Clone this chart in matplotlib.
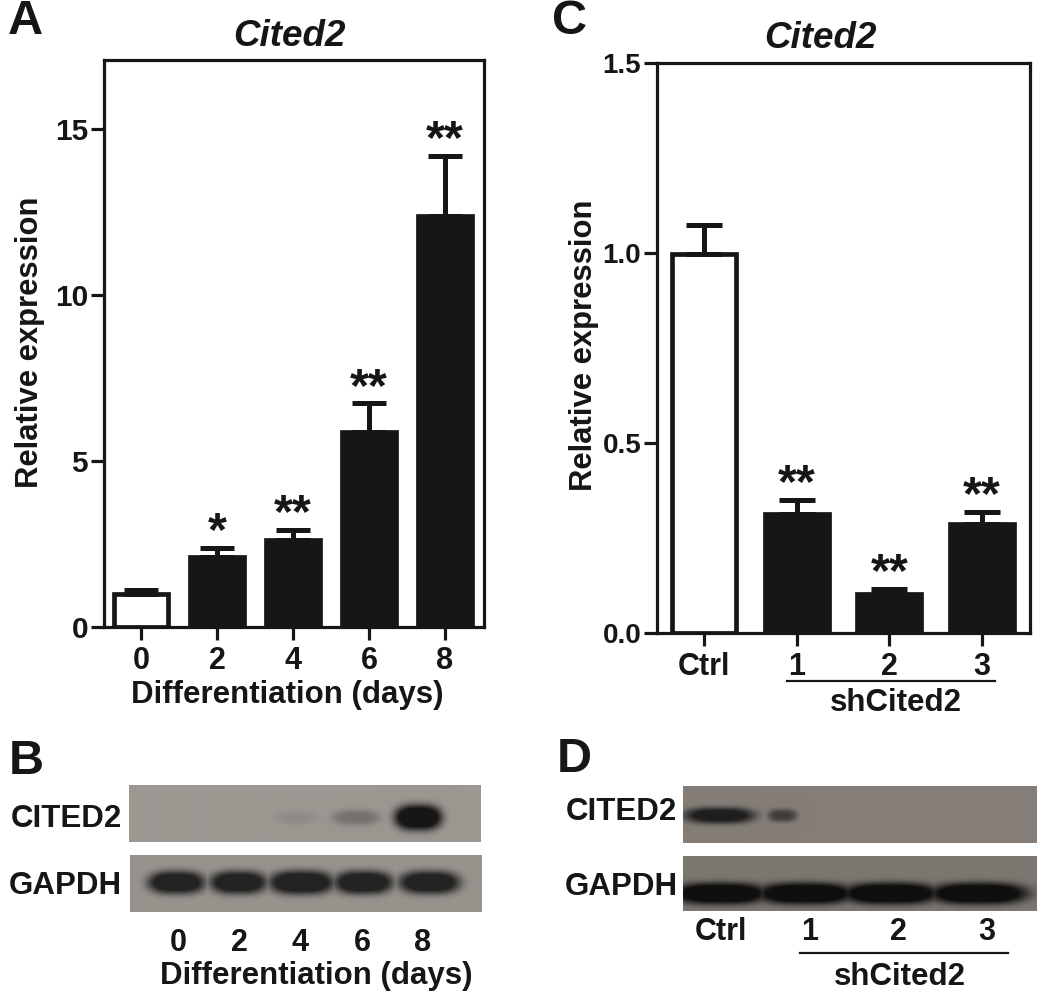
import numpy as np
import matplotlib
matplotlib.use('Agg')
import matplotlib.pyplot as plt

plt.rcParams['font.family'] = ['Liberation Sans', 'DejaVu Sans']
plt.rcParams['font.weight'] = 'bold'
plt.rcParams['axes.labelweight'] = 'bold'

W, H = 1050, 1005
ink = '#161616'

# panel A
days = ['0', '2', '4', '6', '8']
a_vals = [0.98, 2.12, 2.63, 5.88, 12.37]
a_errs = [0.14, 0.27, 0.30, 0.85, 1.82]
a_stars = ['', '*', '**', '**', '**']
a_yticks = [0, 5, 10, 15]

# panel C
groups = ['Ctrl', '1', '2', '3']
c_vals = [0.998, 0.313, 0.103, 0.287]
c_errs = [0.076, 0.037, 0.014, 0.032]
c_stars = ['', '**', '**', '**']
c_yticks = [0.0, 0.5, 1.0, 1.5]

# blots: band centre x [px], half width [px], strength 0-1
b_cited_x = [295, 355, 417]
b_cited_w = [20, 24, 24]
b_cited_s = [0.07, 0.22, 1.0]
b_gapdh_x = [176, 238, 301, 363, 429]
b_gapdh_w = [29, 29, 33, 30, 31]
b_gapdh_s = [0.95, 0.95, 1.0, 0.97, 0.95]
d_cited_x = [719, 782]
d_cited_w = [36, 15]
d_cited_s = [0.85, 0.5]
d_gapdh_x = [720, 805, 890, 978]
d_gapdh_w = [48, 50, 50, 50]
d_gapdh_s = [1.0, 1.0, 1.0, 1.0]


def px_axes(x0, y0, x1, y1):
    return fig.add_axes([x0 / W, 1 - y1 / H, (x1 - x0) / W, (y1 - y0) / H])


def bar_panel(box, labels, vals, errs, stars, yticks, ymax, xlim, width, cap, fmt, ysize, ylab_x, ylab_y):
    ax = px_axes(*box)
    x = np.arange(len(vals))
    colors = ['white'] + [ink] * (len(vals) - 1)
    ax.bar(x, vals, width=width, color=colors, edgecolor=ink, linewidth=3.4)
    ax.errorbar(x, vals, yerr=[np.zeros(len(errs)), errs], fmt='none', ecolor=ink,
                elinewidth=3.6, capsize=cap, capthick=3.6)
    for xi, v, e, s in zip(x, vals, errs, stars):
        if s:
            ax.annotate(s, (xi, v + e), xytext=(0, 11), textcoords='offset points',
                        ha='center', va='center', fontsize=35, color=ink)
    ax.set_xlim(*xlim)
    ax.set_ylim(0, ymax)
    ax.set_xticks(x, labels)
    ax.set_yticks(yticks, [fmt % t for t in yticks])
    ax.tick_params(width=2.3, length=9.4, labelsize=22, labelcolor=ink, color=ink)
    ax.tick_params(axis='x', pad=4)
    ax.tick_params(axis='y', pad=2, labelsize=ysize)
    for sp in ax.spines.values():
        sp.set_linewidth(2.3)
        sp.set_color(ink)
    ax.set_ylabel('Relative expression', fontsize=22.3, color=ink)
    ax.yaxis.set_label_coords((ylab_x - box[0]) / (box[2] - box[0]), (box[3] - ylab_y) / (box[3] - box[1]))
    return ax


def blot(box, bg, xs, ws, ss, yc, thick, dark):
    ax = px_axes(*box)
    x0, y0, x1, y1 = box
    gx, gy = np.meshgrid(np.arange(x0, x1), np.arange(y0, y1))
    img = np.zeros(gx.shape)
    for xc, w, s in zip(xs, ws, ss):
        r = np.abs((gx - xc) / w) ** 3 + ((gy - yc) / (thick * (0.5 + 0.5 * s))) ** 2
        img = np.maximum(img, np.clip(1.35 * s * np.exp(-r ** 1.6), 0, 1))
    img = (bg + (dark - bg) * img[..., None]) / 255
    ax.imshow(img, aspect='auto', interpolation='bilinear')
    ax.axis('off')
    return ax


fig = plt.figure(figsize=(W / 100, H / 100), dpi=100, facecolor='white')

bar_panel((104, 60, 484, 627), days, a_vals, a_errs, a_stars, a_yticks, 17.07,
          (-0.487, 4.513), 0.71, 12, '%d', 21.5, 45, 342)
bar_panel((657, 63, 1030, 633), groups, c_vals, c_errs, c_stars, c_yticks, 1.5,
          (-0.51, 3.52), 0.69, 13, '%.1f', 20, 599, 345)

blot((129, 785, 480, 842), np.array([157, 151, 146.]), b_cited_x, b_cited_w, b_cited_s, 817, 13, np.array([22, 22, 22.]))
blot((130, 855, 482, 912), np.array([152, 147, 141.]), b_gapdh_x, b_gapdh_w, b_gapdh_s, 882, 12, np.array([35, 35, 35.]))
blot((683, 786, 1037, 843), np.array([133, 126, 120.]), d_cited_x, d_cited_w, d_cited_s, 815, 9, np.array([30, 30, 30.]))
blot((683, 856, 1037, 911), np.array([125, 119, 113.]), d_gapdh_x, d_gapdh_w, d_gapdh_s, 893, 11, np.array([15, 15, 15.]))


def label(x, y, s, size=22.5, **kw):
    fig.text(x / W, 1 - y / H, s, fontsize=size, color=ink, ha='center', va='center', **kw)


for x, s, y in [(25, 'A', 21), (569, 'C', 22), (26, 'B', 761), (574, 'D', 759)]:
    label(x, y, s, size=35)

label(289, 37, 'Cited2', size=26.5, style='italic')
label(820, 39, 'Cited2', size=26.5, style='italic')

label(287, 695, 'Differentiation (days)')
label(896, 703, 'shCited2')
fig.add_artist(plt.Line2D([787 / W, 995 / W], [1 - 681 / H] * 2, color=ink, lw=1.6))

label(66, 819, 'CITED2')
label(65, 886, 'GAPDH')
label(621, 812, 'CITED2')
label(621, 887, 'GAPDH')

for x, s in zip([178, 239, 300, 362, 423], days):
    label(x, 943, s, size=22)
label(316, 976, 'Differentiation (days)')

for x, s in zip([721, 810, 898, 987], groups):
    label(x, 932, s, size=22)
fig.add_artist(plt.Line2D([800 / W, 1008 / W], [1 - 953 / H] * 2, color=ink, lw=1.6))
label(900, 977, 'shCited2')

fig.savefig('out.png', dpi=100)
